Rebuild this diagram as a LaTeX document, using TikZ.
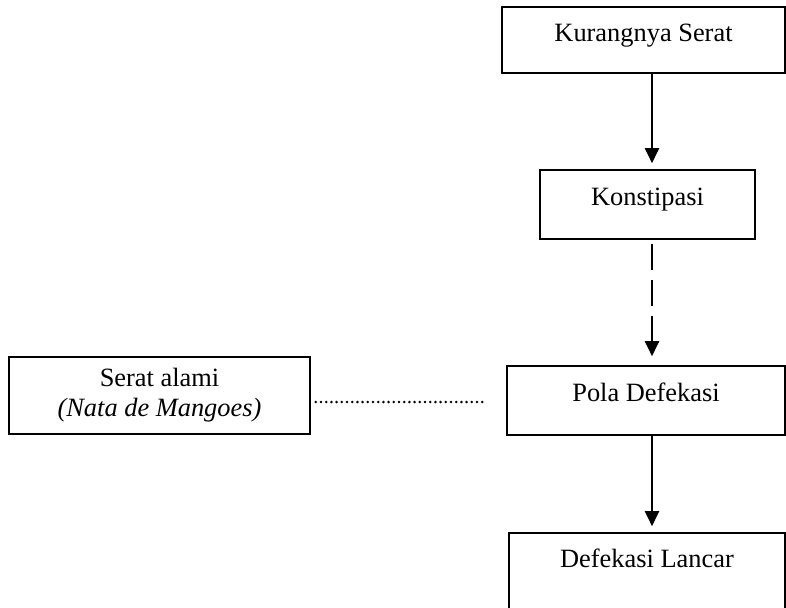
\documentclass[tikz,border=0pt]{standalone}
\usepackage{fontspec}
\setmainfont{Liberation Serif}
\usetikzlibrary{arrows.meta}

\begin{document}
\begin{tikzpicture}[x=0.5pt,y=-0.5pt,
  kotak/.style={draw,line width=0.8pt,inner sep=0pt,font=\fontsize{13.2pt}{15pt}\selectfont},
  satu/.style={kotak,text height=6pt,text depth=5pt},
  panah/.style={line width=1pt,-{Triangle[length=7.5pt,width=7pt]},shorten >=3pt}]

  \useasboundingbox (0,0) rectangle (786,607);
  \clip (0,0) rectangle (786,607);% the last box runs off the page

  % the chain on the right
  \node[satu,minimum width=141.5pt,minimum height=33pt] (kurang) at (643.5,40) {Kurangnya Serat};
  \node[satu,minimum width=107.5pt,minimum height=34.5pt] (konstipasi) at (647.5,204.5) {Konstipasi};
  \node[satu,minimum width=139pt,minimum height=34.5pt] (pola) at (646,400.5) {Pola Defekasi};
  \node[kotak,text height=6pt,text depth=17pt,
        minimum width=138pt,minimum height=45pt] (lancar) at (647,578) {Defekasi Lancar};
  % the box on the left
  \node[kotak,align=center,minimum width=150.5pt,minimum height=38.5pt] (serat) at (159.5,395.5)
    {Serat alami\\\textit{(Nata de Mangoes)}};

  \coordinate (sumbu) at (652,0);% all arrows share this x
  \coordinate (garis) at (0,402);% height of the dotted line

  \foreach \a/\b in {kurang/konstipasi,pola/lancar}{%
    \draw[panah] (\a.south -| sumbu) -- (\b.north -| sumbu);
  }
  \draw[panah,dash pattern=on 13pt off 5pt,dash phase=16pt,shorten >=4.5pt]
    (konstipasi.south -| sumbu) -- (pola.north -| sumbu);
  \draw[line width=1.4pt,line cap=round,dash pattern=on 0pt off 2.6pt,
        shorten <=2.5pt,shorten >=10pt] (serat.east |- garis) -- (pola.west |- garis);

\end{tikzpicture}
\end{document}
